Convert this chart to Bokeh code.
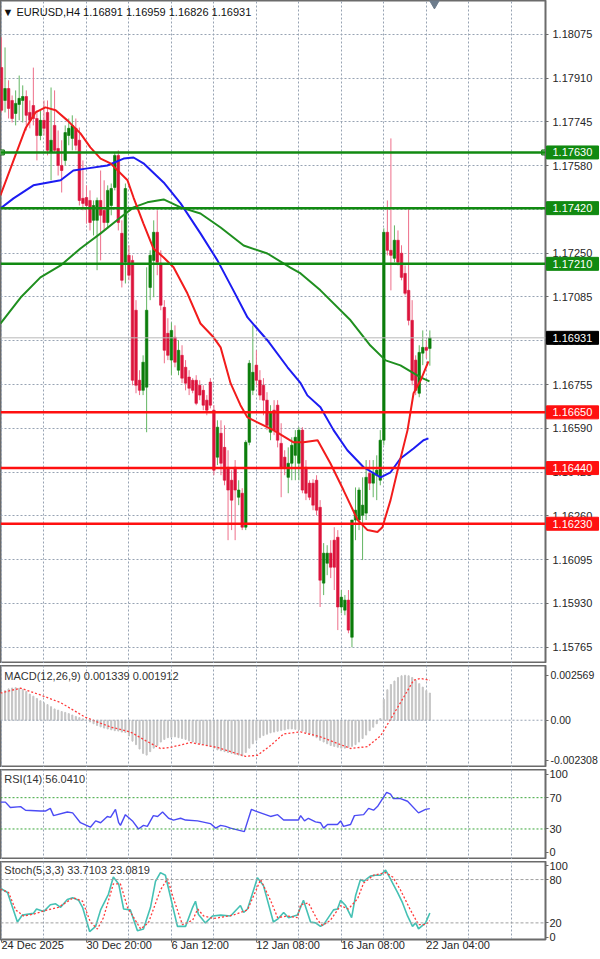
from bokeh.plotting import figure
from bokeh.layouts import column
from bokeh.models import Range1d, FixedTicker, Span, Label, ColumnDataSource, PrintfTickFormatter
from bokeh.core.properties import value
from bokeh.embed import file_html
from bokeh.resources import INLINE

# ---------------- data ----------------
symbol = "EURUSD,H4"
date_ticks = [0, 24, 48, 72, 96, 120]
date_labels = ["24 Dec 2025", "30 Dec 20:00", "6 Jan 12:00", "12 Jan 08:00", "16 Jan 08:00", "22 Jan 04:00"]

opens = [1.17950, 1.17826, 1.17871, 1.17826, 1.17777, 1.17811, 1.17826, 1.17841, 1.17781, 1.17807,
         1.17758, 1.17694, 1.17751, 1.17781, 1.17630, 1.17732, 1.17645, 1.17581, 1.17600, 1.17694,
         1.17683, 1.17721, 1.17676, 1.17457, 1.17460, 1.17449, 1.17374, 1.17374, 1.17449, 1.17412,
         1.17366, 1.17430, 1.17498, 1.17619, 1.17325, 1.17216, 1.17242, 1.17223, 1.17035, 1.16771,
         1.16733, 1.16745, 1.17121, 1.17223, 1.17329, 1.17212, 1.17046, 1.16948, 1.16847, 1.16933,
         1.16809, 1.16865, 1.16820, 1.16783, 1.16771, 1.16771, 1.16752, 1.16733, 1.16696, 1.16764,
         1.16658, 1.16481, 1.16571, 1.16518, 1.16443, 1.16394, 1.16443, 1.16330, 1.16345, 1.16217,
         1.16537, 1.16733, 1.16828, 1.16771, 1.16752, 1.16696, 1.16575, 1.16658, 1.16677, 1.16533,
         1.16481, 1.16405, 1.16458, 1.16488, 1.16458, 1.16583, 1.16443, 1.16383, 1.16383, 1.16394,
         1.16292, 1.16006, 1.16081, 1.16119, 1.16168, 1.16179, 1.15916, 1.15904, 1.15942, 1.15802,
         1.16244, 1.16244, 1.16262, 1.16270, 1.16420, 1.16383, 1.16413, 1.16394, 1.16545, 1.17329,
         1.17261, 1.17231, 1.17299, 1.17250, 1.17174, 1.17110, 1.16997, 1.16847, 1.16722, 1.16873,
         1.16895, 1.16891]
highs = [1.18064, 1.18026, 1.17902, 1.17845, 1.17864, 1.17920, 1.17883, 1.17864, 1.17826, 1.17950,
         1.17789, 1.17789, 1.17826, 1.17826, 1.17875, 1.17864, 1.17713, 1.17676, 1.17732, 1.17758,
         1.17770, 1.17758, 1.17724, 1.17600, 1.17506, 1.17487, 1.17449, 1.17460, 1.17562, 1.17525,
         1.17506, 1.17513, 1.17630, 1.17638, 1.17374, 1.17513, 1.17280, 1.17242, 1.17073, 1.16809,
         1.16865, 1.17197, 1.17261, 1.17374, 1.17412, 1.17261, 1.17073, 1.17005, 1.16989, 1.16978,
         1.16922, 1.16903, 1.16847, 1.16809, 1.16779, 1.16790, 1.16771, 1.16752, 1.16715, 1.16779,
         1.16677, 1.16620, 1.16620, 1.16601, 1.16507, 1.16432, 1.16470, 1.16394, 1.16364, 1.16545,
         1.16847, 1.16978, 1.16884, 1.16809, 1.16779, 1.16726, 1.16677, 1.16696, 1.16696, 1.16609,
         1.16507, 1.16518, 1.16556, 1.16583, 1.16594, 1.16594, 1.16470, 1.16394, 1.16398, 1.16413,
         1.16319, 1.16157, 1.16149, 1.16168, 1.16217, 1.16206, 1.15980, 1.15961, 1.15980, 1.16244,
         1.16367, 1.16367, 1.16405, 1.16470, 1.16470, 1.16470, 1.16488, 1.16583, 1.17344, 1.17449,
         1.17683, 1.17355, 1.17336, 1.17280, 1.17204, 1.17419, 1.17073, 1.16865, 1.16903, 1.16959,
         1.16922, 1.16959]
lows = [1.17781, 1.17781, 1.17758, 1.17743, 1.17732, 1.17751, 1.17743, 1.17713, 1.17721, 1.17732,
        1.17600, 1.17676, 1.17694, 1.17619, 1.17525, 1.17630, 1.17543, 1.17479, 1.17581, 1.17657,
        1.17638, 1.17638, 1.17430, 1.17412, 1.17362, 1.17336, 1.17317, 1.17186, 1.17223, 1.17336,
        1.17344, 1.17393, 1.17487, 1.17336, 1.17121, 1.17136, 1.17148, 1.16752, 1.16722, 1.16715,
        1.16715, 1.16575, 1.17073, 1.17084, 1.17167, 1.17035, 1.16835, 1.16847, 1.16790, 1.16820,
        1.16790, 1.16760, 1.16733, 1.16715, 1.16722, 1.16677, 1.16696, 1.16658, 1.16639, 1.16665,
        1.16413, 1.16451, 1.16413, 1.16375, 1.16168, 1.16206, 1.16168, 1.16300, 1.16206, 1.16206,
        1.16526, 1.16715, 1.16752, 1.16696, 1.16639, 1.16583, 1.16545, 1.16564, 1.16518, 1.16330,
        1.16413, 1.16345, 1.16394, 1.16394, 1.16394, 1.16345, 1.16319, 1.16319, 1.16281, 1.16262,
        1.15916, 1.15961, 1.16036, 1.16025, 1.15980, 1.15829, 1.15893, 1.15885, 1.15817, 1.15764,
        1.16168, 1.16206, 1.16093, 1.16244, 1.16357, 1.16330, 1.16319, 1.16375, 1.16526, 1.17242,
        1.17110, 1.17216, 1.17204, 1.17148, 1.17091, 1.16978, 1.16752, 1.16715, 1.16707, 1.16828,
        1.16854, 1.16826]
closes = [1.17789, 1.17871, 1.17796, 1.17758, 1.17815, 1.17834, 1.17841, 1.17770, 1.17751, 1.17758,
          1.17694, 1.17751, 1.17721, 1.17638, 1.17676, 1.17638, 1.17581, 1.17562, 1.17705, 1.17721,
          1.17732, 1.17657, 1.17449, 1.17438, 1.17430, 1.17366, 1.17430, 1.17449, 1.17393, 1.17366,
          1.17487, 1.17494, 1.17619, 1.17366, 1.17148, 1.17494, 1.17167, 1.16771, 1.16752, 1.16733,
          1.16839, 1.17035, 1.17242, 1.17329, 1.17216, 1.17054, 1.16884, 1.16865, 1.16959, 1.16839,
          1.16884, 1.16779, 1.16760, 1.16741, 1.16733, 1.16684, 1.16715, 1.16677, 1.16658, 1.16677,
          1.16432, 1.16594, 1.16458, 1.16394, 1.16357, 1.16319, 1.16357, 1.16357, 1.16217, 1.16537,
          1.16835, 1.16801, 1.16771, 1.16715, 1.16696, 1.16601, 1.16650, 1.16583, 1.16545, 1.16443,
          1.16443, 1.16458, 1.16526, 1.16556, 1.16583, 1.16357, 1.16345, 1.16330, 1.16300, 1.16281,
          1.16017, 1.16119, 1.16119, 1.16066, 1.16066, 1.15916, 1.15953, 1.15942, 1.15829, 1.16244,
          1.16281, 1.16357, 1.16300, 1.16405, 1.16383, 1.16420, 1.16432, 1.16545, 1.17329, 1.17261,
          1.17242, 1.17299, 1.17216, 1.17159, 1.17099, 1.16997, 1.16771, 1.16733, 1.16876, 1.16895,
          1.16884, 1.16931]

# moving averages (bar position, price)
ma_red_x = [-0.3, 3.4, 6.8, 9.6, 12.4, 15.3, 18.6, 22.3, 25.1, 28.0, 30.8, 35.6, 37.3, 40.1, 42.9, 45.8,
            48.6, 52.5, 56.2, 59.9, 61.9, 64.7, 67.5, 69.5, 72.3, 76.8, 82.5, 85.3, 89.3, 92.9, 96.6,
            100.6, 103.4, 106.2, 107.6, 109.9, 112.1, 114.7, 116.4, 118.4, 120.6]
ma_red_y = [1.17468, 1.17600, 1.17721, 1.17781, 1.17800, 1.17789, 1.17751, 1.17702, 1.17649, 1.17607,
            1.17589, 1.17525, 1.17460, 1.17362, 1.17268, 1.17234, 1.17197, 1.17099, 1.16985, 1.16933,
            1.16895, 1.16760, 1.16677, 1.16631, 1.16612, 1.16583, 1.16537, 1.16537, 1.16545, 1.16458,
            1.16357, 1.16244, 1.16206, 1.16199, 1.16217, 1.16319, 1.16443, 1.16583, 1.16722, 1.16771,
            1.16842]
ma_blue_x = [-0.3, 3.4, 9.0, 16.7, 20.3, 24.3, 29.9, 34.5, 37.3, 40.1, 45.8, 50.6, 56.2, 61.0, 65.5,
             69.5, 75.1, 80.8, 84.5, 86.4, 90.1, 93.8, 97.7, 102.3, 107.1, 109.9, 112.7, 116.4, 119.2, 120.6]
ma_blue_y = [1.17419, 1.17457, 1.17506, 1.17525, 1.17562, 1.17570, 1.17581, 1.17607, 1.17611, 1.17589,
             1.17517, 1.17438, 1.17325, 1.17223, 1.17110, 1.17008, 1.16922, 1.16820, 1.16760, 1.16714,
             1.16669, 1.16583, 1.16507, 1.16443, 1.16405, 1.16424, 1.16476, 1.16514, 1.16545, 1.16552]
ma_green_x = [-0.3, 5.4, 11.0, 16.7, 22.3, 28.0, 33.6, 37.3, 41.2, 45.8, 50.6, 56.2, 61.9, 68.4, 75.1,
              81.6, 84.5, 90.1, 98.6, 104.2, 108.5, 112.7, 118.4, 120.9]
ma_green_y = [1.16985, 1.17083, 1.17159, 1.17204, 1.17268, 1.17325, 1.17385, 1.17423, 1.17442, 1.17453,
              1.17423, 1.17400, 1.17347, 1.17279, 1.17249, 1.17196, 1.17174, 1.17110, 1.16997, 1.16902,
              1.16846, 1.16827, 1.16782, 1.16767]

resistance_levels = [1.17630, 1.17420, 1.17210]
support_levels = [1.16650, 1.16440, 1.16230]
price_ticks = [1.18075, 1.17910, 1.17745, 1.17580, 1.17415, 1.17250, 1.17085, 1.16920,
               1.16755, 1.16590, 1.16425, 1.16260, 1.16095, 1.15930, 1.15765]

macd_hist = [0.00156, 0.00170, 0.00180, 0.00185, 0.00187, 0.00183, 0.00175, 0.00165, 0.00150,
             0.00138, 0.00125, 0.00112, 0.00100, 0.00090, 0.00078, 0.00065, 0.00058, 0.00050,
             0.00045, 0.00038, 0.00030, 0.00022, 0.00015, 0.00008, 0.00000, -0.00010, -0.00020,
             -0.00030, -0.00038, -0.00045, -0.00050, -0.00055, -0.00060, -0.00062, -0.00068, -0.00070,
             -0.00090, -0.00120, -0.00140, -0.00165, -0.00190, -0.00200, -0.00180, -0.00160, -0.00145,
             -0.00125, -0.00110, -0.00100, -0.00098, -0.00095, -0.00100, -0.00105, -0.00110, -0.00118,
             -0.00125, -0.00130, -0.00135, -0.00140, -0.00145, -0.00150, -0.00160, -0.00170, -0.00175,
             -0.00180, -0.00185, -0.00190, -0.00195, -0.00200, -0.00205, -0.00185, -0.00160, -0.00135,
             -0.00115, -0.00100, -0.00088, -0.00080, -0.00072, -0.00068, -0.00063, -0.00058, -0.00055,
             -0.00050, -0.00050, -0.00052, -0.00055, -0.00062, -0.00070, -0.00080, -0.00090, -0.00100,
             -0.00115, -0.00125, -0.00135, -0.00145, -0.00150, -0.00155, -0.00160, -0.00160, -0.00155,
             -0.00150, -0.00140, -0.00125, -0.00105, -0.00085, -0.00060, -0.00040, -0.00020, 0.00010,
             0.00120, 0.00175, 0.00205, 0.00225, 0.00245, 0.00255, 0.00258, 0.00255, 0.00245,
             0.00230, 0.00210, 0.00190, 0.00170, 0.00156]
macd_sig_x = [-0.3, 5.4, 11.0, 16.7, 23.7, 30.8, 36.4, 40.7, 44.9, 47.7, 53.4, 61.0, 68.9, 72.3, 76.0,
              79.7, 84.5, 90.1, 98.6, 103.4, 107.1, 109.9, 112.7, 116.4, 118.4, 121.0]
macd_sig_y = [0.00156, 0.00184, 0.00145, 0.00101, 0.00017, -0.00039, -0.00067, -0.00117, -0.00162,
              -0.00156, -0.00128, -0.00156, -0.00207, -0.00201, -0.00145, -0.00078, -0.00067, -0.00095,
              -0.00162, -0.00151, -0.00089, 0.00006, 0.00101, 0.00229, 0.00240, 0.00229]
macd_scale = [-0.002308, 0.002569]
macd_readout = [0.001339, 0.001912]

rsi_x = [-0.3, 1.1, 2.5, 5.4, 6.8, 11.0, 12.4, 13.8, 14.7, 18.6, 20.1, 22.3, 25.1, 26.6, 28.0, 29.9, 30.8,
         32.2, 33.1, 33.6, 35.0, 37.0, 38.7, 40.1, 41.2, 42.9, 44.1, 45.5, 47.2, 48.6, 50.6, 52.0, 55.4,
         59.0, 60.5, 61.9, 63.3, 64.7, 68.6, 70.6, 71.8, 74.0, 76.0, 78.0, 79.7, 81.6, 83.9, 84.5, 85.6,
         86.7, 88.7, 90.1, 91.0, 92.1, 94.9, 95.8, 96.6, 98.6, 99.7, 102.3, 103.7, 105.1, 106.2, 108.8,
         109.9, 110.7, 112.7, 114.7, 117.8, 119.8, 121.0]
rsi_y = [64.3, 64.3, 57.4, 58.6, 54.0, 52.9, 52.9, 56.3, 47.1, 51.7, 50.6, 38.0, 32.3, 40.3, 38.0, 46.0, 44.9,
         55.1, 38.0, 34.6, 48.3, 40.3, 30.0, 34.6, 33.4, 47.1, 46.0, 51.7, 43.7, 41.4, 43.7, 41.4, 40.3,
         36.9, 31.1, 34.6, 33.4, 31.1, 26.6, 55.1, 52.9, 49.4, 46.0, 48.3, 41.4, 41.4, 41.4, 47.1, 40.3,
         43.7, 39.1, 38.0, 31.1, 35.7, 35.7, 40.3, 33.4, 35.7, 47.1, 48.3, 56.3, 54.0, 58.6, 76.9,
         74.6, 68.9, 68.9, 65.4, 50.6, 55.1, 56.0410]

stoch_x = [-0.3, 1.7, 4.5, 5.9, 9.0, 9.9, 11.9, 13.8, 15.3, 16.7, 18.6, 20.1, 21.8, 22.9, 24.9, 26.6, 28.0,
           30.2, 31.6, 33.1, 34.5, 36.4, 38.4, 40.1, 42.1, 43.5, 44.9, 46.3, 49.7, 52.0, 54.0, 54.8, 55.6,
           57.6, 59.6, 61.9, 64.7, 67.5, 68.4, 69.5, 72.3, 74.0, 76.8, 78.2, 79.7, 81.1, 83.6, 84.5, 85.3,
           87.3, 88.7, 90.1, 91.0, 93.8, 94.9, 95.8, 97.2, 98.9, 100.0, 101.4, 102.3, 104.2, 105.6, 107.1,
           108.5, 109.3, 111.9, 113.3, 114.7, 116.1, 117.0, 117.8, 119.8, 121.0]
stoch_y = [68.0, 62.0, 21.2, 30.8, 33.2, 39.2, 35.6, 45.2, 46.4, 41.6, 52.4, 54.8, 51.2, 41.6, 8.0, 15.2, 38.0,
           59.6, 83.6, 74.0, 39.2, 38.0, 9.2, 11.6, 41.6, 77.6, 89.6, 86.0, 15.2, 15.2, 41.6, 50.0, 32.0,
           20.0, 29.6, 30.8, 29.6, 44.0, 34.4, 39.2, 82.4, 71.6, 21.2, 26.0, 34.4, 27.2, 30.8, 41.6, 51.2,
           21.2, 20.0, 15.2, 17.6, 38.0, 39.2, 51.2, 44.0, 27.2, 57.2, 80.0, 77.6, 84.8, 86.0, 86.0,
           93.2, 86.0, 62.0, 47.6, 29.6, 15.2, 20.0, 11.6, 20.0, 33.7103]
stoch_sig_x = [-0.3, 2.0, 4.0, 6.2, 9.0, 13.0, 16.1, 20.3, 22.9, 25.1, 27.1, 28.8, 31.6, 33.6, 35.6, 39.3,
               41.5, 44.9, 46.9, 48.6, 51.1, 54.0, 55.4, 57.1, 59.9, 65.5, 69.5, 73.2, 76.0, 78.0, 80.8,
               83.6, 84.5, 86.7, 89.3, 90.7, 92.9, 95.8, 98.0, 100.6, 102.3, 105.1, 108.5, 110.5, 112.7,
               115.5, 117.8, 119.8, 121.0]
stoch_sig_y = [66.8, 62.0, 38.0, 29.6, 32.0, 38.0, 41.6, 54.8, 50.0, 21.2, 11.6, 27.2, 74.0, 74.0, 41.6, 11.6,
               20.0, 65.6, 81.2, 53.6, 17.6, 23.6, 39.2, 29.6, 26.0, 30.8, 38.0, 80.0, 51.2, 27.2, 29.6,
               27.2, 45.2, 47.6, 23.6, 16.4, 23.6, 44.0, 39.2, 53.6, 75.2, 86.0, 89.6, 83.6, 65.6,
               38.0, 17.6, 17.6, 23.0819]

# ---------------- styling ----------------
FONT = "Liberation Sans"
GRID = "#97a3b3"
FRAME = "#6b6b6b"
TXT = "#262626"
W = 600
RB = 55
FRAME_W = W - RB
xr = Range1d(-0.28, 153.67)
px_per_bar = FRAME_W / (xr.end - xr.start)


def panel(height, yr, with_x=False, standoff=2):
    p = figure(width=W, height=height, x_range=xr, y_range=yr,
               y_axis_location="right", x_axis_location="below" if with_x else None,
               output_backend="svg", toolbar_location=None,
               min_border_left=0, min_border_right=RB, min_border_top=0, min_border_bottom=0)
    p.outline_line_color = FRAME
    p.outline_line_width = 2
    p.background_fill_color = "white"
    p.border_fill_color = "white"
    p.xgrid.ticker = FixedTicker(ticks=list(range(0, 156, 12)))
    p.xgrid.grid_line_color = GRID
    p.xgrid.grid_line_dash = "2 2"
    p.yaxis.major_tick_out = 3
    p.yaxis.major_tick_in = 0
    p.yaxis.minor_tick_line_color = None
    p.yaxis.axis_line_color = FRAME
    p.yaxis.major_tick_line_color = FRAME
    p.yaxis.major_label_text_font = FONT
    p.yaxis.major_label_text_font_size = "11px"
    p.yaxis.major_label_text_color = TXT
    p.yaxis.major_label_standoff = standoff
    return p


def panel_title(fig, y, text):
    fig.add_layout(Label(x=0.8, y=y, text=text, text_font=FONT, text_font_size="11px",
                         text_color="#333333", text_baseline="middle"))


# ---------------- main price panel ----------------
p = panel(663, Range1d(1.15703, 1.18203), standoff=4)
p.yaxis.ticker = FixedTicker(ticks=price_ticks)
p.yaxis.formatter = PrintfTickFormatter(format="%.5f")
p.ygrid.grid_line_color = GRID
p.ygrid.grid_line_dash = "2 2"

idx = list(range(len(opens)))
up = [c >= o for o, c in zip(opens, closes)]
src = ColumnDataSource(dict(
    x=idx, o=opens, h=highs, l=lows, c=closes,
    top=[max(o, c) for o, c in zip(opens, closes)],
    bot=[min(o, c) for o, c in zip(opens, closes)],
    wick=["#62b562" if u else "#ee6f8a" for u in up],
    body=["#0b7d0b" if u else "#dc143c" for u in up],
))
p.segment(x0="x", y0="l", x1="x", y1="h", line_color="wick", line_width=1, source=src)
p.vbar(x="x", width=0.72, top="top", bottom="bot", fill_color="body", line_color="body",
       line_width=0.6, source=src)

p.line(ma_green_x, ma_green_y, line_color="#1f8f1f", line_width=2)
p.line(ma_blue_x, ma_blue_y, line_color="#1c1cf2", line_width=2)
p.line(ma_red_x, ma_red_y, line_color="#f21c1c", line_width=2)

last_close = closes[-1]
p.add_layout(Span(location=last_close, dimension="width", line_color="#b8b8b8", line_width=1))

for lv in resistance_levels:
    p.add_layout(Span(location=lv, dimension="width", line_color="#118a11", line_width=2.5))
for lv in support_levels:
    p.add_layout(Span(location=lv, dimension="width", line_color="#ff1010", line_width=2.5))

p.scatter([0.1, 153.3], [resistance_levels[0]] * 2, marker="square", size=5,
          fill_color="#8fd08f", line_color="#0a6e0a")
p.scatter([122.3], [1.18193], marker="inverted_triangle", size=10,
          fill_color="#6d7c8c", line_color="#6d7c8c")

# price tags drawn over the right-hand price scale (overlay level -> not clipped to the frame)
box_levels = resistance_levels + support_levels + [last_close]
box_fill = ["#118a11"] * 3 + ["#ff1010"] * 3 + ["#000000"]
box_src = ColumnDataSource(dict(
    x=[xr.end + 27 / px_per_bar] * len(box_levels),
    tx=[xr.end] * len(box_levels),
    y=box_levels,
    fill=box_fill,
    txt=[f"{v:.5f}" for v in box_levels],
))
p.rect(x="x", y="y", width=52, height=13, width_units="screen", height_units="screen",
       fill_color="fill", line_color="fill", source=box_src, level="overlay")
p.text(x="tx", y="y", text="txt", x_offset=7, text_baseline="middle", text_color="white",
       text_font=value(FONT), text_font_size="11px", source=box_src, level="overlay")

header = f"\u25bc {symbol}  {opens[-1]:.5f} {highs[-1]:.5f} {lows[-1]:.5f} {closes[-1]:.5f}"
p.add_layout(Label(x=0.3, y=1.18160, text=header, text_font=FONT, text_font_size="11px",
                   text_color="#111111", text_baseline="middle"))

# ---------------- MACD panel ----------------
pm = panel(102, Range1d(-0.00271, 0.00314))
pm.ygrid.visible = False
pm.yaxis.ticker = FixedTicker(ticks=[macd_scale[1], 0.0, macd_scale[0]])
pm.yaxis.formatter = PrintfTickFormatter(format="%.6f")
pm.yaxis.major_label_overrides = {0: "0.00"}
pm.yaxis.major_label_text_font_size = "10.5px"
pm.add_layout(Span(location=0, dimension="width", line_color=GRID, line_dash="2 2", line_width=1))
pm.vbar(x=idx, width=0.3, top=macd_hist, bottom=0, fill_color="#c4c4c4", line_color="#c4c4c4")
pm.line(macd_sig_x, macd_sig_y, line_color="#ff3b3b", line_width=1.3, line_dash="2 2")
panel_title(pm, 0.00254, f"MACD(12,26,9) {macd_readout[0]:.6f} {macd_readout[1]:.6f}")

# ---------------- RSI panel ----------------
pr = panel(90, Range1d(-9, 106), standoff=1)
pr.ygrid.visible = False
pr.yaxis.ticker = FixedTicker(ticks=[0, 30, 70, 100])
for lv in (70, 30):
    pr.add_layout(Span(location=lv, dimension="width", line_color="#3aa63a", line_dash="2 2", line_width=1))
pr.line(rsi_x, rsi_y, line_color="#4b4bf5", line_width=1.4)
panel_title(pr, 94, f"RSI(14) {rsi_y[-1]:.4f}")

# ---------------- Stochastic panel ----------------
ps = panel(98, Range1d(-3, 105), with_x=True, standoff=1)
ps.ygrid.visible = False
ps.yaxis.ticker = FixedTicker(ticks=[0, 20, 80, 100])
for lv in (80, 20):
    ps.add_layout(Span(location=lv, dimension="width", line_color="#a0a0a0", line_dash="3 2", line_width=1))
ps.line(stoch_x, stoch_y, line_color="#45c1b4", line_width=1.6)
ps.line(stoch_sig_x, stoch_sig_y, line_color="#ff3b3b", line_width=1.3, line_dash="2 2")
panel_title(ps, 93, f"Stoch(5,3,3) {stoch_y[-1]:.4f} {stoch_sig_y[-1]:.4f}")
ps.xaxis.ticker = FixedTicker(ticks=date_ticks)
ps.xaxis.major_label_overrides = dict(zip(date_ticks, date_labels))
ps.xaxis.major_label_orientation = -0.0001
ps.xaxis.major_label_text_font = FONT
ps.xaxis.major_label_text_font_size = "11px"
ps.xaxis.major_label_text_color = TXT
ps.xaxis.major_tick_out = 3
ps.xaxis.major_tick_in = 0
ps.xaxis.minor_tick_line_color = None
ps.xaxis.axis_line_color = FRAME
ps.xaxis.major_tick_line_color = FRAME
ps.xaxis.major_label_standoff = 2

layout = column(p, pm, pr, ps, spacing=2)
open("out.html", "w").write(file_html(layout, INLINE))
